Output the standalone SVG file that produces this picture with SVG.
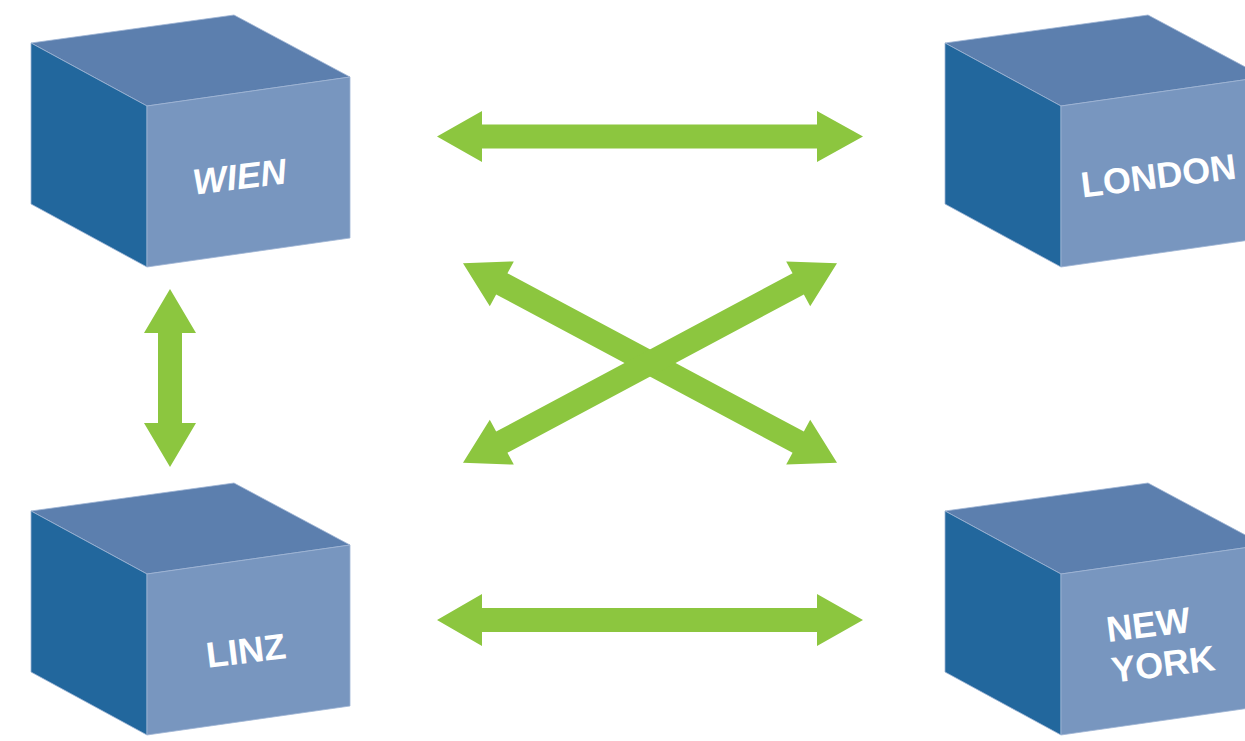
<svg xmlns="http://www.w3.org/2000/svg" xmlns:xlink="http://www.w3.org/1999/xlink" width="1245" height="741" viewBox="0 0 1245 741">
  <style>
    .top { fill: #5c7fae; }
    .side { fill: #22679d; }
    .front { fill: #7896bf; }
    .face { stroke: #9fb5d4; stroke-width: 0.8; stroke-linejoin: round; }
    .arrow { fill: #8cc63f; }
    .label { font-family: "Liberation Sans", Arial, sans-serif; font-weight: bold; font-size: 36px; fill: #ffffff; }
  </style>
  <defs>
    <g id="cube">
      <polygon class="top face" points="31,43 234,15 350,77 147,106"/>
      <polygon class="side face" points="31,43 147,106 147,267 31,204"/>
      <polygon class="front face" points="147,106 350,77 350,238 147,267"/>
    </g>
    <polygon id="diag" points="-212,0 -168,-25.5 -168,-12 168,-12 168,-25.5 212,0 168,25.5 168,12 -168,12 -168,25.5"/>
  </defs>
  <rect width="1245" height="741" fill="#ffffff"/>

  <g id="connectors">
    <polygon class="arrow" points="437,136.5 482,111 482,124.5 817,124.5 817,111 863,136.5 817,162 817,148.5 482,148.5 482,162"/>
    <polygon class="arrow" points="437,620 482,594 482,608 817,608 817,594 863,620 817,646 817,632 482,632 482,646"/>
    <polygon class="arrow" points="170,289 196,333 182,333 182,423 196,423 170,467 144,423 158,423 158,333 144,333"/>
    <use class="arrow" xlink:href="#diag" transform="translate(650,363) rotate(28.1)"/>
    <use class="arrow" xlink:href="#diag" transform="translate(650,363) rotate(-28.1)"/>
  </g>

  <g id="wien">
    <use xlink:href="#cube"/>
    <text class="label" x="241" y="189" text-anchor="middle" font-style="italic" transform="rotate(-7 241 189)">WIEN</text>
  </g>
  <g id="london">
    <use xlink:href="#cube" transform="translate(914,0)"/>
    <text class="label" x="1160" y="188" text-anchor="middle" transform="rotate(-7 1160 188)">LONDON</text>
  </g>
  <g id="linz">
    <use xlink:href="#cube" transform="translate(0,468)"/>
    <text class="label" x="247.5" y="663" text-anchor="middle" transform="rotate(-7 247.5 663)">LINZ</text>
  </g>
  <g id="new-york">
    <use xlink:href="#cube" transform="translate(914,468)"/>
    <text class="label" x="1108" y="642" transform="rotate(-7 1108 642)"><tspan x="1108" y="642">NEW</tspan><tspan x="1108" y="683">YORK</tspan></text>
  </g>
</svg>
